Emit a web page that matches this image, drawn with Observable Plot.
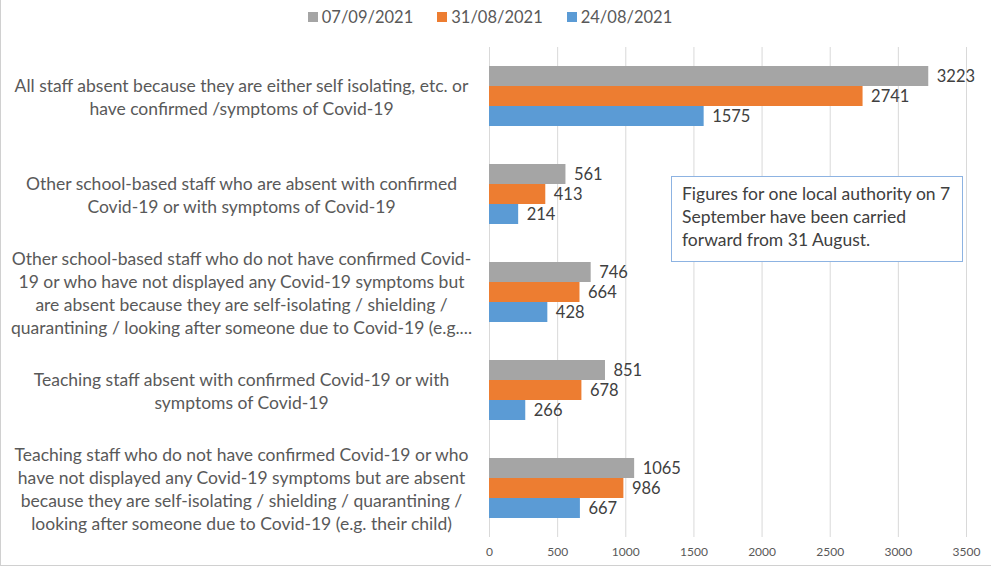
<!DOCTYPE html>
<html>
<head>
<meta charset="utf-8">
<script src="https://cdn.jsdelivr.net/npm/d3@7"></script>
<script src="https://cdn.jsdelivr.net/npm/@observablehq/plot@0.6"></script>
<style>
  html, body { margin: 0; padding: 0; background: #fff; }
  body { width: 992px; height: 567px; position: relative; overflow: hidden; font-family: Lato, "Liberation Sans", sans-serif; }
  #frame { position: absolute; left: 0; top: 0; width: 990px; height: 565px; border-left: 1px solid #d0d0d0; border-bottom: 1px solid #d0d0d0; pointer-events: none; }
  #legend { height: 34px; display: flex; justify-content: center; align-items: center; gap: 24px; margin-left: -12px; font-size: 16.5px; color: #595959; }
  #legend .item { display: flex; align-items: center; gap: 4px; }
  #legend .sw { width: 10px; height: 10px; display: inline-block; }
  #note { position: absolute; left: 671px; top: 176px; width: 270px; height: 74px; border: 1px solid #8db3e2; background: #fff; padding: 5px 10px; font-size: 17.5px; line-height: 23px; color: #404040; box-sizing: content-box; white-space: nowrap; }
</style>
</head>
<body>
<div id="legend"></div>
<div id="chart"></div>
<div id="note">Figures for one local authority on 7<br>September have been carried<br>forward from 31 August.</div>
<div id="frame"></div>
<script>
const categories = [
  "All staff absent because they are either self isolating, etc. or\nhave confirmed /symptoms of Covid-19",
  "Other school-based staff who are absent with confirmed\nCovid-19 or with symptoms of Covid-19",
  "Other school-based staff who do not have confirmed Covid-\n19 or who have not displayed any Covid-19 symptoms but\nare absent because they are self-isolating / shielding /\nquarantining / looking after someone due to Covid-19 (e.g....",
  "Teaching staff absent with confirmed Covid-19 or with\nsymptoms of Covid-19",
  "Teaching staff who do not have confirmed Covid-19 or who\nhave not displayed any Covid-19 symptoms but are absent\nbecause they are self-isolating / shielding / quarantining /\nlooking after someone due to Covid-19 (e.g. their child)"
];
const seriesNames = ["07/09/2021", "31/08/2021", "24/08/2021"];
const values_07_09 = [3223, 561, 746, 851, 1065];
const values_31_08 = [2741, 413, 664, 678, 986];
const values_24_08 = [1575, 214, 428, 266, 667];
const seriesColors = ["#a5a5a5", "#ed7d31", "#5b9bd5"];
const xTicks = [0, 500, 1000, 1500, 2000, 2500, 3000, 3500];

const seriesValues = [values_07_09, values_31_08, values_24_08];
const rows = [];
categories.forEach((c, i) => {
  seriesNames.forEach((s, j) => rows.push({category: c, series: s, value: seriesValues[j][i]}));
});

// legend
const legend = document.getElementById("legend");
seriesNames.forEach((s, j) => {
  const it = document.createElement("span");
  it.className = "item";
  it.innerHTML = `<span class="sw" style="background:${seriesColors[j]}"></span><span>${s}</span>`;
  legend.appendChild(it);
});

const chart = Plot.plot({
  width: 992,
  height: 533,
  marginLeft: 489,
  marginRight: 26,
  marginTop: 13,
  marginBottom: 30,
  style: {fontFamily: "Lato, 'Liberation Sans', sans-serif", color: "#595959", background: "#fff"},
  x: {domain: [0, 3500], ticks: xTicks, label: null},
  y: {domain: seriesNames, paddingInner: 0, paddingOuter: 0.95, axis: null},
  fy: {domain: categories, padding: 0, axis: null},
  color: {domain: seriesNames, range: seriesColors},
  marks: [
    Plot.gridX(xTicks, {stroke: "#d9d9d9", strokeOpacity: 1, strokeWidth: 1}),
    Plot.barX(rows, {x: "value", y: "series", fy: "category", fill: "series"}),
    Plot.text(rows, {x: "value", y: "series", fy: "category", text: d => String(d.value), textAnchor: "start", dx: 8, fontSize: 16.5, fill: "#404040"}),
    Plot.text(categories, {fy: d => d, text: d => d, frameAnchor: "left", textAnchor: "middle", dx: -248, fontSize: 17.5, lineHeight: 1.31, fill: "#595959"}),
    Plot.axisX({ticks: xTicks, tickFormat: d => String(d), tickSize: 0, tickPadding: 10, fontSize: 12, fill: "#595959", label: null})
  ]
});
document.getElementById("chart").appendChild(chart);
</script>
</body>
</html>
